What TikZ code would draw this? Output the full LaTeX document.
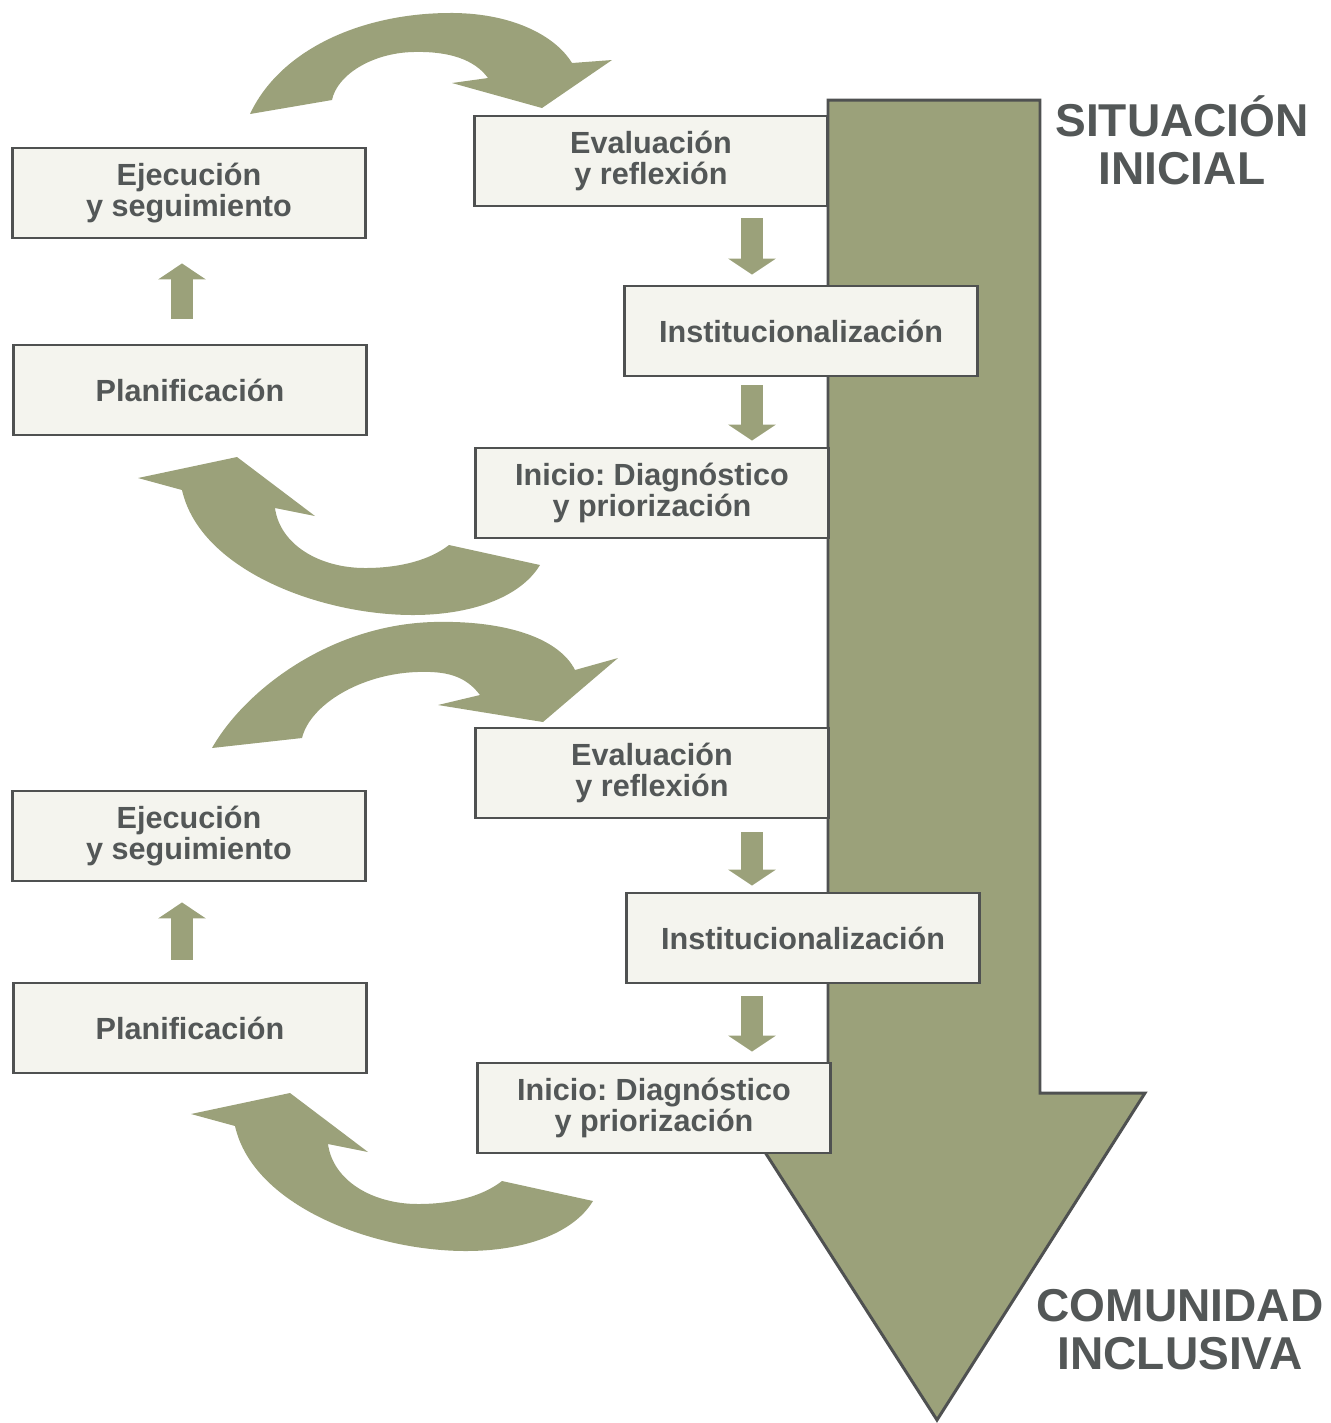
\documentclass[tikz,border=0pt]{standalone}
\usepackage{fontspec}
\setmainfont{Liberation Sans}
\frenchspacing
\usetikzlibrary{arrows.meta}
\definecolor{oliva}{HTML}{9BA17A}
\definecolor{caja}{HTML}{F4F4EE}
\definecolor{borde}{HTML}{4F5151}
\definecolor{letra}{HTML}{535757}
\tikzset{
  paso/.style={draw=borde, line width=0.8pt, fill=caja, text=letra, minimum width=3.52cm, minimum height=0.9cm,
    inner sep=0pt, align=center, font=\fontsize{8.7}{8.6}\selectfont\bfseries},
  titulo/.style={text=letra, align=center, inner sep=0pt, font=\fontsize{13.1}{13.7}\selectfont\bfseries},
  flechita/.style={draw=oliva, line width=0.22cm, -{Triangle[width=0.47cm,length=0.16cm]}}
}
\begin{document}
\begin{tikzpicture}[x=0.01cm, y=-0.01cm]
    \useasboundingbox (0,0) rectangle (1331,1423);

    % flecha grande
    \filldraw [fill=oliva, draw=borde, line width=0.85pt] (828,100)--(1040,100)--(1040,1093)--(1145,1093)--(937,1420)--(727,1093)--(828,1093)--cycle;

    % ciclo 1
    \fill [oliva] (250,114) .. controls (280,50) and (360,14) .. (447,13) .. controls (510,12) and (555,35) .. (572,63)
        -- (612,60) -- (542,108) -- (452,83) -- (488,78) .. controls (475,60) and (450,51) .. (413,52)
        .. controls (372,53) and (337,75) .. (332,100) -- cycle;
    \fill [oliva] (138,478) -- (237,457) -- (315,516) -- (275,508) .. controls (280,545) and (320,568) .. (365,568)
        .. controls (400,568) and (430,560) .. (449,545) -- (540,565) .. controls (520,598) and (470,615) .. (413,615)
        .. controls (320,615) and (200,570) .. (182,490) -- cycle;

    % ciclo 2
    \fill [oliva] (212,748) .. controls (245,690) and (330,625) .. (433,622) .. controls (510,620) and (560,640) .. (575,670)
        -- (618,658) -- (543,722) -- (438,705) -- (480,695) .. controls (465,675) and (445,671) .. (417,672)
        .. controls (360,674) and (310,705) .. (302,738) -- cycle;
    \begin{scope}[shift={(53,636)}]
    \fill [oliva] (138,478) -- (237,457) -- (315,516) -- (275,508) .. controls (280,545) and (320,568) .. (365,568)
        .. controls (400,568) and (430,560) .. (449,545) -- (540,565) .. controls (520,598) and (470,615) .. (413,615)
        .. controls (320,615) and (200,570) .. (182,490) -- cycle;
    \end{scope}

    \node [paso] (ejec1) at (189,193) {Ejecución\\y seguimiento};
    \node [paso] (plan1) at (190,390) {Planificación};
    \node [paso] (eval1) at (651,161) {Evaluación\\y reflexión};
    \node [paso] (inst1) at (801,331) {Institucionalización};
    \node [paso] (ini1) at (652,493) {Inicio: Diagnóstico\\y priorización};

    \node [paso] (ejec2) at (189,836) {Ejecución\\y seguimiento};
    \node [paso] (plan2) at (190,1028) {Planificación};
    \node [paso] (eval2) at (652,773) {Evaluación\\y reflexión};
    \node [paso] (inst2) at (803,938) {Institucionalización};
    \node [paso] (ini2) at (654,1108) {Inicio: Diagnóstico\\y priorización};

    \draw [flechita, shorten <=0.25cm, shorten >=0.24cm] (182,0 |- plan1.north) -- (182,0 |- ejec1.south);
    \draw [flechita, shorten <=0.11cm, shorten >=0.1cm] (752,0 |- eval1.south) -- (752,0 |- inst1.north);
    \draw [flechita, shorten <=0.08cm, shorten >=0.06cm] (752,0 |- inst1.south) -- (752,0 |- ini1.north);
    \draw [flechita, shorten <=0.22cm, shorten >=0.2cm] (182,0 |- plan2.north) -- (182,0 |- ejec2.south);
    \draw [flechita, shorten <=0.13cm, shorten >=0.06cm] (752,0 |- eval2.south) -- (752,0 |- inst2.north);
    \draw [flechita, shorten <=0.12cm, shorten >=0.1cm] (752,0 |- inst2.south) -- (752,0 |- ini2.north);

    \node [titulo] (sit) at (1182,140) {SITUACIÓN\\INICIAL};
    \node [titulo] (com) at (1180,1330) {COMUNIDAD\\INCLUSIVA};
\end{tikzpicture}
\end{document}
